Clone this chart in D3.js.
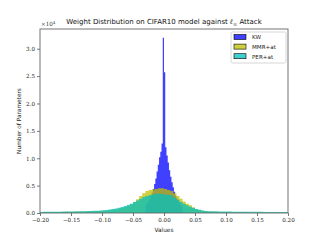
<!DOCTYPE html>
<html>
<head>
<meta charset="utf-8">
<script src="https://cdn.jsdelivr.net/npm/d3@7"></script>
<style>
  body { margin: 0; background: #fff; }
  svg { display: block; }
</style>
</head>
<body>
<svg id="chart" width="320" height="240"></svg>
<script>
// counts are in units of 1e4 parameters
var kwStart = -0.03, kwWidth = 0.002;
var kwCounts = [
    0.15, 0.18, 0.22, 0.26, 0.31, 0.37, 0.44, 0.53, 0.63, 0.76, 0.88, 1.02, 1.12, 1.27, 3.20,
    2.57, 1.20, 1.05, 0.92, 0.78, 0.66, 0.56, 0.47, 0.39, 0.32, 0.27, 0.22, 0.18, 0.15, 0.12
];

var histStart = -0.2, histWidth = 0.005;
var mmrCounts = [
    0.015, 0.016, 0.016, 0.017, 0.018, 0.018, 0.019, 0.020, 0.021, 0.022,
    0.023, 0.024, 0.025, 0.026, 0.028, 0.029, 0.031, 0.033, 0.035, 0.038,
    0.040, 0.045, 0.050, 0.058, 0.066, 0.078, 0.092, 0.11, 0.13, 0.16,
    0.20, 0.25, 0.31, 0.36, 0.40, 0.42, 0.43, 0.44, 0.45, 0.45,
    0.44, 0.42, 0.40, 0.36, 0.31, 0.26, 0.21, 0.17, 0.14, 0.10,
    0.075, 0.055, 0.040, 0.032, 0.027, 0.024, 0.022, 0.021, 0.020, 0.019,
    0.018, 0.018, 0.017, 0.017, 0.016, 0.016, 0.015, 0.015, 0.014, 0.014,
    0.013, 0.013, 0.013, 0.012, 0.012, 0.012, 0.011, 0.011, 0.011, 0.010
];
var perCounts = [
    0.020, 0.021, 0.022, 0.022, 0.023, 0.024, 0.025, 0.026, 0.027, 0.028,
    0.029, 0.030, 0.031, 0.032, 0.034, 0.036, 0.038, 0.040, 0.042, 0.045,
    0.048, 0.055, 0.063, 0.072, 0.082, 0.095, 0.11, 0.13, 0.15, 0.17,
    0.20, 0.23, 0.26, 0.29, 0.31, 0.33, 0.34, 0.35, 0.35, 0.345,
    0.34, 0.335, 0.32, 0.28, 0.24, 0.20, 0.17, 0.14, 0.115, 0.095,
    0.075, 0.058, 0.045, 0.038, 0.034, 0.032, 0.030, 0.029, 0.028, 0.027,
    0.026, 0.026, 0.025, 0.025, 0.024, 0.024, 0.023, 0.023, 0.022, 0.022,
    0.021, 0.021, 0.020, 0.020, 0.019, 0.019, 0.018, 0.018, 0.017, 0.017
];

var seriesNames = ['KW', 'MMR+at', 'PER+at'];
var seriesColors = ['#0000ff', '#bfbf00', '#00bfbf'];
var xTicks = [-0.20, -0.15, -0.10, -0.05, 0.00, 0.05, 0.10, 0.15, 0.20];
var yTicks = [0.0, 0.5, 1.0, 1.5, 2.0, 2.5, 3.0];

var svg = d3.select('#chart'),
    margin = {left: 40, right: 32, top: 29, bottom: 27},
    width = +svg.attr('width'),
    height = +svg.attr('height'),
    serif = '"DejaVu Serif", serif',
    sans = '"DejaVu Sans", sans-serif';

var x = d3.scaleLinear().domain([-0.2, 0.2]).range([margin.left, width - margin.right]);
var y = d3.scaleLinear().domain([0, 3.36]).range([height - margin.bottom, margin.top]);

function toSteps(start, step, counts) {
    var pts = counts.map(function(c, i) { return [start + i * step, c]; });
    pts.push([start + counts.length * step, counts[counts.length - 1]]);
    return pts;
}

var area = d3.area()
    .curve(d3.curveStepAfter)
    .x(function(d) { return x(d[0]); })
    .y0(y(0))
    .y1(function(d) { return y(d[1]); });

var hists = [
    toSteps(kwStart, kwWidth, kwCounts),
    toSteps(histStart, histWidth, mmrCounts),
    toSteps(histStart, histWidth, perCounts)
];

svg.append('g')
    .selectAll('path')
    .data(hists)
    .enter().append('path')
    .attr('d', area)
    .attr('fill', function(d, i) { return seriesColors[i]; })
    .attr('fill-opacity', 0.75);

// axes
var xAxis = svg.append('g')
    .attr('transform', 'translate(0,' + y(0) + ')')
    .call(d3.axisBottom(x).tickValues(xTicks).tickSize(3).tickPadding(2)
        .tickFormat(function(d) { return d3.format('.2f')(d).replace('-', '\u2212'); }));
var yAxis = svg.append('g')
    .attr('transform', 'translate(' + margin.left + ',0)')
    .call(d3.axisLeft(y).tickValues(yTicks).tickSize(3).tickPadding(2).tickFormat(d3.format('.1f')));

[xAxis, yAxis].forEach(function(g) {
    g.select('.domain').remove();
    g.selectAll('line').attr('stroke', '#555').attr('stroke-width', 0.8);
    g.selectAll('text').attr('font-family', serif).attr('font-size', 5.6).attr('fill', '#222');
});

// spines
svg.append('rect')
    .attr('x', margin.left)
    .attr('y', margin.top)
    .attr('width', width - margin.left - margin.right)
    .attr('height', height - margin.top - margin.bottom)
    .attr('fill', 'none')
    .attr('stroke', '#666')
    .attr('stroke-width', 0.9);

// offset text
var off = svg.append('text')
    .attr('x', margin.left + 1)
    .attr('y', margin.top - 3)
    .attr('font-family', serif)
    .attr('font-size', 5.6)
    .attr('fill', '#333')
    .text('\u00d710');
off.append('tspan').attr('dy', -2.5).attr('font-size', 4).text('4');

// title
var title = svg.append('text')
    .attr('x', (margin.left + width - margin.right) / 2)
    .attr('y', 24)
    .attr('text-anchor', 'middle')
    .attr('font-family', sans)
    .attr('font-size', 7)
    .attr('fill', '#111')
    .text('Weight Distribution on CIFAR10 model against ');
title.append('tspan').attr('font-family', serif).attr('font-style', 'italic').text('\u2113');
title.append('tspan').attr('dy', 1.5).attr('font-size', 5).attr('font-family', serif).text('\u221e');
title.append('tspan').attr('dy', -1.5).text(' Attack');

// axis labels
svg.append('text')
    .attr('x', (margin.left + width - margin.right) / 2)
    .attr('y', 232)
    .attr('text-anchor', 'middle')
    .attr('font-family', sans)
    .attr('font-size', 5.8)
    .attr('fill', '#222')
    .text('Values');

svg.append('text')
    .attr('transform', 'translate(21,' + (margin.top + height - margin.bottom) / 2 + ') rotate(-90)')
    .attr('text-anchor', 'middle')
    .attr('font-family', sans)
    .attr('font-size', 5.8)
    .attr('fill', '#222')
    .text('Number of Parameters');

// legend
var legend = svg.append('g').attr('transform', 'translate(231,32)');
legend.append('rect')
    .attr('width', 55).attr('height', 31).attr('rx', 1.5)
    .attr('fill', '#fff').attr('fill-opacity', 0.8)
    .attr('stroke', '#ccc').attr('stroke-width', 0.8);
var item = legend.selectAll('g.item')
    .data(seriesNames)
    .enter().append('g')
    .attr('class', 'item')
    .attr('transform', function(d, i) { return 'translate(3,' + (2.5 + i * 9.6) + ')'; });
item.append('rect')
    .attr('width', 12).attr('height', 5)
    .attr('fill', function(d, i) { return seriesColors[i]; })
    .attr('fill-opacity', 0.75)
    .attr('stroke', '#000').attr('stroke-width', 0.6);
item.append('text')
    .attr('x', 18).attr('y', 4.8)
    .attr('font-family', sans)
    .attr('font-size', 5.6)
    .attr('fill', '#222')
    .text(function(d) { return d; });
</script>
</body>
</html>
